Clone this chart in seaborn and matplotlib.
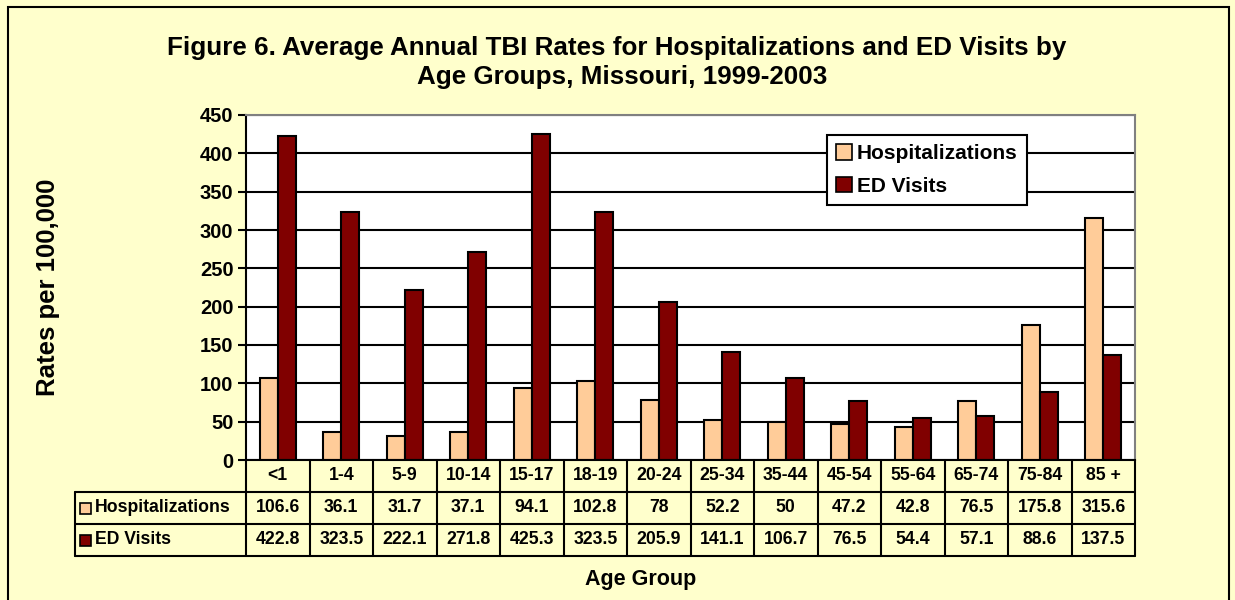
import pandas as pd
import matplotlib.pyplot as plt
import matplotlib.transforms as mtransforms
from matplotlib.patches import Rectangle, Patch
import seaborn as sns

age_groups = ['<1', '1-4', '5-9', '10-14', '15-17', '18-19', '20-24',
              '25-34', '35-44', '45-54', '55-64', '65-74', '75-84', '85 +']
hospitalizations = [106.6, 36.1, 31.7, 37.1, 94.1, 102.8, 78,
                    52.2, 50, 47.2, 42.8, 76.5, 175.8, 315.6]
ed_visits = [422.8, 323.5, 222.1, 271.8, 425.3, 323.5, 205.9,
             141.1, 106.7, 76.5, 54.4, 57.1, 88.6, 137.5]
series_names = ['Hospitalizations', 'ED Visits']
series_colors = ['#FFCC99', '#800000']
y_ticks = list(range(0, 451, 50))

df = pd.DataFrame({'age': age_groups * 2,
                   'rate': hospitalizations + ed_visits,
                   'series': [series_names[0]] * len(age_groups) + [series_names[1]] * len(age_groups)})

sns.set_style('white')
plt.rcParams['font.family'] = ['Liberation Sans', 'DejaVu Sans']
plt.rcParams['font.weight'] = 'bold'
plt.rcParams['text.color'] = 'black'
plt.rcParams['ytick.color'] = 'black'
plt.rcParams['ytick.labelcolor'] = 'black'

bg = '#FFFFCC'
fig = plt.figure(figsize=(12.35, 6), dpi=100, facecolor=bg)
W, H = 1235, 600
ax = fig.add_axes([246 / W, 1 - 460 / H, (1135 - 246) / W, (460 - 115) / H])
ax.set_facecolor('white')

sns.barplot(data=df, x='age', y='rate', hue='series', palette=series_colors, saturation=1,
            edgecolor='black', linewidth=1.5, width=0.57, ax=ax, legend=False)

ax.set_ylim(0, 450)
ax.set_xlim(-0.5, len(age_groups) - 0.5)
ax.set_yticks(y_ticks)
ax.set_yticklabels([str(t) for t in y_ticks], fontsize=14.5, fontweight='bold')
ax.yaxis.grid(True, color='black', linewidth=1.5)
ax.set_axisbelow(True)
ax.tick_params(axis='y', length=6, width=1.5, color='black', direction='out', pad=3, left=True)
ax.set_xticks([])
ax.set_xlabel('')
ax.set_ylabel('')
for side in ['left', 'bottom']:
    ax.spines[side].set_color('black')
    ax.spines[side].set_linewidth(1.5)
for side in ['top', 'right']:
    ax.spines[side].set_color('#808080')
    ax.spines[side].set_linewidth(1.5)

# legend
handles = [Patch(facecolor=c, edgecolor='black', linewidth=1.2) for c in series_colors]
leg = ax.legend(handles, series_names, loc='upper right', bbox_to_anchor=(0.8785, 0.942),
                prop={'size': 15, 'weight': 'bold'}, frameon=True, fancybox=False,
                framealpha=1, edgecolor='black', handlelength=0.75, handleheight=0.75,
                handletextpad=0.25, borderpad=0.45, labelspacing=0.65, borderaxespad=0)
leg.get_frame().set_linewidth(1.5)

# data table under the axes
trans = mtransforms.blended_transform_factory(ax.transData, ax.transAxes)
rowh = 32 / (460 - 115)
label_left = (75 - 246) / (1135 - 246)
n = len(age_groups)
lw = 1.5
fs = 12.7

for i in range(n + 1):
    ax.plot([i - 0.5, i - 0.5], [0, -3 * rowh], transform=trans, color='black', lw=lw, clip_on=False)
for k in range(1, 4):
    ax.plot([label_left, 1], [-k * rowh, -k * rowh], transform=ax.transAxes, color='black', lw=lw, clip_on=False)
ax.plot([label_left, label_left], [-rowh, -3 * rowh], transform=ax.transAxes, color='black', lw=lw, clip_on=False)

for i, lab in enumerate(age_groups):
    ax.text(i, -0.5 * rowh, lab, transform=trans, ha='center', va='center', fontsize=fs, fontweight='bold')
    ax.text(i, -1.5 * rowh, f'{hospitalizations[i]:g}', transform=trans, ha='center', va='center',
            fontsize=fs, fontweight='bold')
    ax.text(i, -2.5 * rowh, f'{ed_visits[i]:g}', transform=trans, ha='center', va='center',
            fontsize=fs, fontweight='bold')

for k, (name, col) in enumerate(zip(series_names, series_colors)):
    yc = -(k + 1.5) * rowh
    sq = 11 / (1135 - 246)
    sqh = 11 / (460 - 115)
    ax.add_patch(Rectangle((label_left + 5 / 889, yc - sqh / 2), sq, sqh, transform=ax.transAxes,
                           facecolor=col, edgecolor='black', lw=1.2, clip_on=False))
    ax.text(label_left + 20 / 889, yc, name, transform=ax.transAxes, ha='left', va='center',
            fontsize=fs, fontweight='bold')

# titles
fig.text(617 / W, 1 - 48 / H, 'Figure 6. Average Annual TBI Rates for Hospitalizations and ED Visits by',
         ha='center', va='center', fontsize=18.7, fontweight='bold')
fig.text(622 / W, 1 - 77 / H, 'Age Groups, Missouri, 1999-2003',
         ha='center', va='center', fontsize=18.7, fontweight='bold')
fig.text(48 / W, 1 - 287 / H, 'Rates per 100,000', rotation=90, ha='center', va='center',
         fontsize=18.5, fontweight='bold')
fig.text(641 / W, 1 - 580 / H, 'Age Group', ha='center', va='center', fontsize=15.5, fontweight='bold')

# outer chart border
fig.patches.append(Rectangle((8 / W, -0.01), (1229 - 8) / W, 1 - 7 / H + 0.01, transform=fig.transFigure,
                             fill=False, edgecolor='black', lw=1.5))

fig.savefig('out.png', dpi=100, facecolor=bg)
